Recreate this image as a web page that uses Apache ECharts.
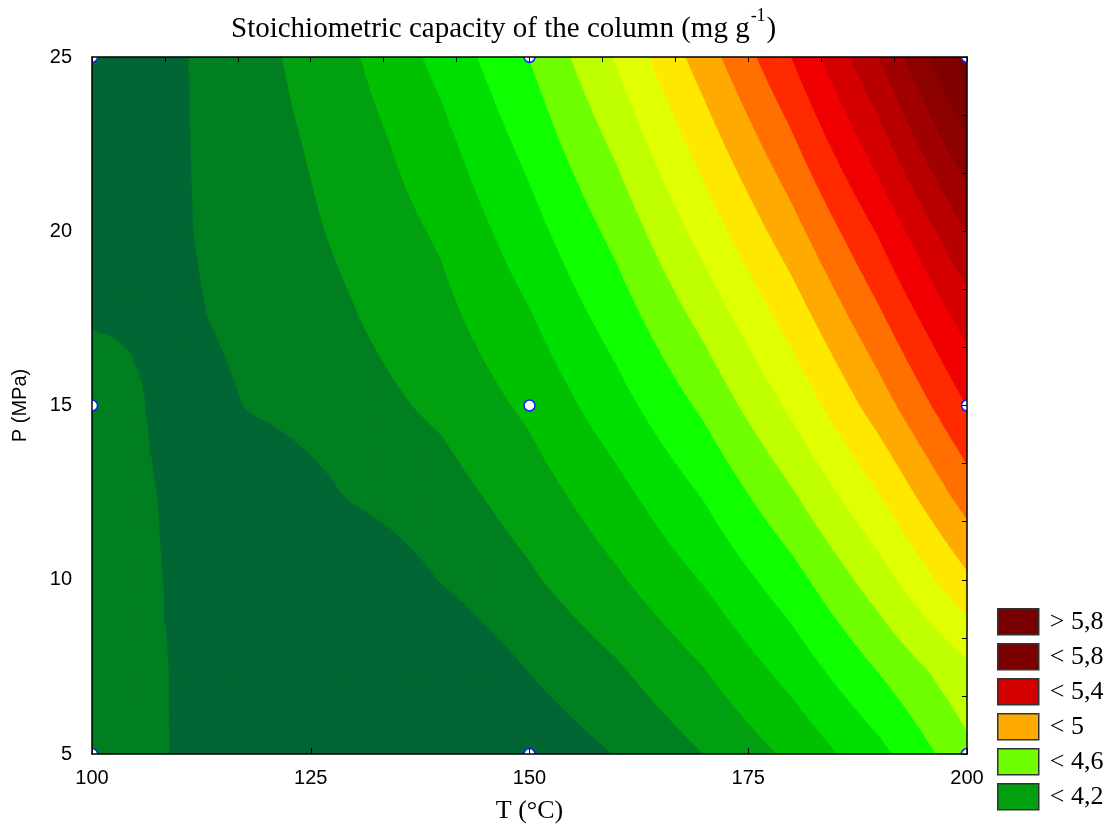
<!DOCTYPE html>
<html>
<head>
<meta charset="utf-8">
<script src="https://cdn.jsdelivr.net/npm/echarts@6/dist/echarts.min.js"></script>
<style>
html,body{margin:0;padding:0;background:#fff;}
#chart{width:1119px;height:838px;}
</style>
</head>
<body>
<div id="chart"></div>
<script>
// ---- Data ----
const T_VALUES = [100, 110, 120, 130, 140, 150, 160, 170, 180, 190, 200];
const P_VALUES = [5, 7.5, 10, 12.5, 15, 17.5, 20, 22.5, 25];
// capacity (mg/g), one row per P value (ascending), one column per T value
const CAP_P5    = [4.07, 3.99, 3.92, 3.88, 3.88, 3.93, 4.003, 4.10, 4.22, 4.37, 4.57];
const CAP_P7_5  = [4.065, 3.99, 3.91, 3.88, 3.91, 4.005, 4.09, 4.20, 4.34, 4.51, 4.68];
const CAP_P10   = [4.06, 3.985, 3.92, 3.92, 4.004, 4.085, 4.185, 4.307, 4.46, 4.654, 4.88];
const CAP_P12_5 = [4.055, 3.98, 3.93, 4.012, 4.06, 4.15, 4.27, 4.41, 4.59, 4.80, 5.05];
const CAP_P15   = [4.06, 3.96, 4.015, 4.06, 4.12, 4.22, 4.36, 4.52, 4.72, 4.95, 5.20];
const CAP_P17_5 = [3.99, 3.985, 4.03, 4.095, 4.17, 4.29, 4.445, 4.63, 4.84, 5.08, 5.34];
const CAP_P20   = [3.96, 3.99, 4.05, 4.125, 4.215, 4.36, 4.53, 4.74, 4.96, 5.21, 5.50];
const CAP_P22_5 = [3.945, 3.99, 4.065, 4.15, 4.27, 4.43, 4.62, 4.845, 5.08, 5.355, 5.68];
const CAP_P25   = [3.93, 3.99, 4.08, 4.19, 4.33, 4.50, 4.71, 4.95, 5.20, 5.50, 5.85];
const CAPACITY = [CAP_P5, CAP_P7_5, CAP_P10, CAP_P12_5, CAP_P15, CAP_P17_5, CAP_P20, CAP_P22_5, CAP_P25];

const LEVELS = [4.0, 4.1, 4.2, 4.3, 4.4, 4.5, 4.6, 4.7, 4.8, 4.9, 5.0, 5.1, 5.2, 5.3, 5.4, 5.5, 5.6, 5.7, 5.8];
const BAND_COLORS = ['#006633', '#007f20', '#00a010', '#00c000', '#00e000', '#10ff00', '#70ff00',
  '#c0ff00', '#e0ff00', '#ffe800', '#ffaa00', '#ff7000', '#ff2a00', '#f00000', '#d40000',
  '#b80000', '#a00000', '#8c0000', '#800000', '#780000'];

const LEGEND_LABELS = ['> 5,8', '< 5,8', '< 5,4', '< 5', '< 4,6', '< 4,2'];
const LEGEND_COLORS = ['#780000', '#7c0000', '#d40000', '#ffaa00', '#70ff00', '#00a010'];

const DESIGN_T = [100, 100, 100, 150, 150, 150, 200, 200, 200];
const DESIGN_P = [5, 15, 25, 5, 15, 25, 5, 15, 25];

const X_TICKS = [100, 125, 150, 175, 200];
const Y_TICKS = [5, 10, 15, 20, 25];

// ---- Contour rendering helpers ----
const SUB = 6;
function clipPoly(poly, level, keepAbove) {
  const out = [];
  const n = poly.length;
  for (let i = 0; i < n; i++) {
    const a = poly[i], b = poly[(i + 1) % n];
    const ain = keepAbove ? a[2] >= level : a[2] < level;
    const bin = keepAbove ? b[2] >= level : b[2] < level;
    if (ain) out.push(a);
    if (ain !== bin) {
      const t = (level - a[2]) / (b[2] - a[2]);
      out.push([a[0] + t * (b[0] - a[0]), a[1] + t * (b[1] - a[1]), level]);
    }
  }
  return out;
}
function bandOf(v) {
  let k = 0;
  while (k < LEVELS.length && v >= LEVELS[k]) k++;
  return k;
}
function addPoly(children, poly, k) {
  children.push({
    type: 'polygon',
    shape: { points: poly.map(p => [p[0], p[1]]) },
    style: { fill: BAND_COLORS[k], stroke: BAND_COLORS[k], lineWidth: 1.6, lineJoin: 'round' },
    silent: true
  });
}

function renderContours(params, api) {
  const children = [];
  const nT = T_VALUES.length, nP = P_VALUES.length;
  for (let j = 0; j < nP - 1; j++) {
    for (let i = 0; i < nT - 1; i++) {
      const v00 = CAPACITY[j][i], v10 = CAPACITY[j][i + 1];
      const v01 = CAPACITY[j + 1][i], v11 = CAPACITY[j + 1][i + 1];
      const t0 = T_VALUES[i], t1 = T_VALUES[i + 1];
      const p0 = P_VALUES[j], p1 = P_VALUES[j + 1];
      const verts = [];
      for (let b = 0; b <= SUB; b++) {
        const row = [];
        const w = b / SUB;
        for (let a = 0; a <= SUB; a++) {
          const u = a / SUB;
          const val = v00 * (1 - u) * (1 - w) + v10 * u * (1 - w) + v01 * (1 - u) * w + v11 * u * w;
          const pt = api.coord([t0 + (t1 - t0) * u, p0 + (p1 - p0) * w]);
          row.push([pt[0], pt[1], val]);
        }
        verts.push(row);
      }
      for (let b = 0; b < SUB; b++) {
        for (let a = 0; a < SUB; a++) {
          const A = verts[b][a], B = verts[b][a + 1], C = verts[b + 1][a + 1], D = verts[b + 1][a];
          const q = [A, B, C, D];
          const qv = q.map(p => p[2]);
          const qmin = bandOf(Math.min.apply(null, qv));
          const qmax = bandOf(Math.max.apply(null, qv));
          if (qmin === qmax) { addPoly(children, q, qmin); continue; }
          const tris = [[A, B, C], [A, C, D]];
          for (const tri of tris) {
            const vs = tri.map(p => p[2]);
            const kmin = bandOf(Math.min.apply(null, vs));
            const kmax = bandOf(Math.max.apply(null, vs));
            for (let k = kmin; k <= kmax; k++) {
              let poly = tri;
              if (k > 0) poly = clipPoly(poly, LEVELS[k - 1], true);
              if (poly.length >= 3 && k < LEVELS.length) poly = clipPoly(poly, LEVELS[k], false);
              if (poly.length < 3) continue;
              addPoly(children, poly, k);
            }
          }
        }
      }
    }
  }
  return { type: 'group', children: children };
}

const chart = echarts.init(document.getElementById('chart'), null, { renderer: 'canvas' });

const legendSeries = LEGEND_LABELS.map((name, i) => ({
  name: name,
  type: 'scatter',
  data: [],
  itemStyle: { color: LEGEND_COLORS[i], opacity: 1 }
}));

const option = {
  backgroundColor: '#ffffff',
  animation: false,
  title: {
    text: '{a|Stoichiometric capacity of the column (mg g}{s|-1}{a|)}',
    left: 226,
    top: 2,
    textStyle: {
      fontWeight: 'normal',
      rich: {
        a: { fontFamily: 'Liberation Serif', fontWeight: 'normal', fontSize: 29, color: '#000', verticalAlign: 'bottom', lineHeight: 37 },
        s: { fontFamily: 'Liberation Serif', fontWeight: 'normal', fontSize: 18, color: '#000', verticalAlign: 'top', padding: [0, 1, 15, 1], lineHeight: 37 }
      }
    }
  },
  legend: {
    orient: 'vertical',
    left: 997,
    top: 608,
    padding: 0,
    icon: 'rect',
    itemWidth: 41,
    itemHeight: 26,
    itemGap: 7.5,
    selectedMode: false,
    data: LEGEND_LABELS,
    itemStyle: { borderColor: '#333', borderWidth: 1.5, opacity: 1 },
    textStyle: { fontFamily: 'Liberation Serif', fontSize: 26, color: '#000', padding: [0, 0, 0, 6] }
  },
  grid: { left: 92, top: 57, width: 875, height: 697, containLabel: false },
  xAxis: [
    {
      type: 'value', position: 'bottom', min: 100, max: 200, interval: 25, z: 10,
      axisLine: { show: true, onZero: false, lineStyle: { color: '#000', width: 1.5 } },
      axisTick: { show: true, inside: true, length: 6, lineStyle: { color: '#000' } },
      axisLabel: { fontFamily: 'Liberation Sans', fontSize: 20, color: '#000', margin: 14,
        formatter: v => X_TICKS.indexOf(v) >= 0 ? String(v) : '' },
      splitLine: { show: false },
      name: 'T (°C)', nameLocation: 'middle', nameGap: 44,
      nameTextStyle: { fontFamily: 'Liberation Serif', fontSize: 26, color: '#000' }
    },
    {
      type: 'value', position: 'top', min: 100, max: 200, interval: 100 / 12, z: 10,
      axisLine: { show: true, onZero: false, lineStyle: { color: '#000', width: 1.5 } },
      axisTick: { show: true, inside: true, length: 5, lineStyle: { color: '#000' } },
      axisLabel: { show: false },
      splitLine: { show: false }
    }
  ],
  yAxis: [
    {
      type: 'value', position: 'left', min: 5, max: 25, interval: 5, z: 10,
      axisLine: { show: true, onZero: false, lineStyle: { color: '#000', width: 1.5 } },
      axisTick: { show: false },
      axisLabel: { fontFamily: 'Liberation Sans', fontSize: 20, color: '#000', margin: 20,
        formatter: v => Y_TICKS.indexOf(v) >= 0 ? String(v) : '' },
      splitLine: { show: false },
      name: 'P (MPa)', nameLocation: 'middle', nameGap: 62, nameRotate: 90,
      nameTextStyle: { fontFamily: 'Liberation Sans', fontSize: 20, color: '#000' }
    },
    {
      type: 'value', position: 'right', min: 5, max: 25, interval: 5 / 3, z: 10,
      axisLine: { show: true, onZero: false, lineStyle: { color: '#000', width: 1.5 } },
      axisTick: { show: true, inside: true, length: 5, lineStyle: { color: '#000' } },
      axisLabel: { show: false },
      splitLine: { show: false }
    }
  ],
  series: [
    {
      name: 'contours',
      type: 'custom',
      xAxisIndex: 0, yAxisIndex: 0,
      silent: true,
      clip: true,
      z: 1,
      data: [[T_VALUES[0], P_VALUES[0]]],
      renderItem: renderContours
    },
    {
      name: 'design points',
      type: 'custom',
      xAxisIndex: 0, yAxisIndex: 0,
      silent: true,
      clip: true,
      z: 3,
      data: DESIGN_T.map((t, i) => [t, DESIGN_P[i]]),
      renderItem: function (params, api) {
        const pt = api.coord([api.value(0), api.value(1)]);
        return {
          type: 'circle',
          shape: { cx: pt[0], cy: pt[1], r: 5.5 },
          style: { fill: '#ffffff', stroke: '#1020ff', lineWidth: 1.5 }
        };
      }
    }
  ].concat(legendSeries)
};
chart.setOption(option);
</script>
</body>
</html>
